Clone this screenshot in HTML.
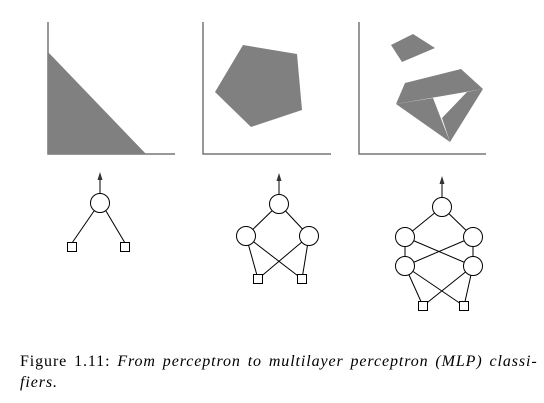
<!DOCTYPE html>
<html><head><style>
body{margin:0;background:#fff;width:544px;height:403px;overflow:hidden}
.cap{position:absolute;left:20px;top:351px;font-family:"Liberation Serif",serif;font-size:16px;letter-spacing:0.9px;word-spacing:2px;line-height:21px;width:530px;white-space:nowrap}
</style></head><body>
<svg width="544" height="403" style="position:absolute;left:0;top:0">
<g stroke="#777" stroke-width="1.5" fill="none">
<polyline points="48,22 48,154 175,154"/>
<polyline points="203,22 203,154 331,154"/>
<polyline points="359,22 359,154 486,154"/>
</g>
<g fill="#808080">
<polygon points="48,52 146,154 48,154"/>
<polygon points="243,45 297,54 302,110 251,127 215,92"/>
<polygon points="391,45 413,34 435,48 402,62"/>
<polygon points="405,83 461,69 483,89 396,104"/>
<polygon points="396,104 433,98 450,142"/>
<polygon points="442,118 467,92 483,89 450,142"/>
</g>
<g stroke="#000" stroke-width="1" fill="#fff">
<line x1="100" y1="193" x2="100" y2="176" stroke="#555" stroke-width="1.5"/>
<polygon points="100,172 97.5,180 102.5,180" fill="#333" stroke="none"/>
<line x1="94" y1="211" x2="72" y2="243"/><line x1="106" y1="211" x2="125" y2="243"/>
<circle cx="100" cy="203" r="9.5"/>
<rect x="67.5" y="242.5" width="9" height="9"/><rect x="120.5" y="242.5" width="9" height="9"/>

<line x1="279" y1="194" x2="279" y2="177" stroke="#555" stroke-width="1.5"/>
<polygon points="279,173 276.5,181 281.5,181" fill="#333" stroke="none"/>
<line x1="279" y1="204" x2="246" y2="236"/><line x1="279" y1="204" x2="309" y2="236"/>
<line x1="246" y1="236" x2="258" y2="279"/><line x1="246" y1="236" x2="302" y2="279"/>
<line x1="309" y1="236" x2="258" y2="279"/><line x1="309" y1="236" x2="302" y2="279"/>
<circle cx="279" cy="204" r="9.5"/><circle cx="246" cy="236" r="9.5"/><circle cx="309" cy="236" r="9.5"/>
<rect x="253.5" y="274.5" width="9" height="9"/><rect x="297.5" y="274.5" width="9" height="9"/>

<line x1="442" y1="197" x2="442" y2="180" stroke="#555" stroke-width="1.5"/>
<polygon points="442,176 439.5,184 444.5,184" fill="#333" stroke="none"/>
<line x1="442" y1="207" x2="405" y2="237"/><line x1="442" y1="207" x2="473" y2="237"/>
<line x1="405" y1="237" x2="405" y2="266"/><line x1="405" y1="237" x2="473" y2="266"/>
<line x1="473" y1="237" x2="405" y2="266"/><line x1="473" y1="237" x2="473" y2="266"/>
<line x1="405" y1="266" x2="423" y2="306"/><line x1="405" y1="266" x2="464" y2="306"/>
<line x1="473" y1="266" x2="423" y2="306"/><line x1="473" y1="266" x2="464" y2="306"/>
<circle cx="442" cy="207" r="9.5"/><circle cx="405" cy="237" r="9.5"/><circle cx="473" cy="237" r="9.5"/>
<circle cx="405" cy="266" r="9.5"/><circle cx="473" cy="266" r="9.5"/>
<rect x="418.5" y="301.5" width="9" height="9"/><rect x="459.5" y="301.5" width="9" height="9"/>
</g>
</svg>
<div class="cap">Figure 1.11: <i>From perceptron to multilayer perceptron (MLP) classi-<br>fiers.</i></div>
</body></html>
